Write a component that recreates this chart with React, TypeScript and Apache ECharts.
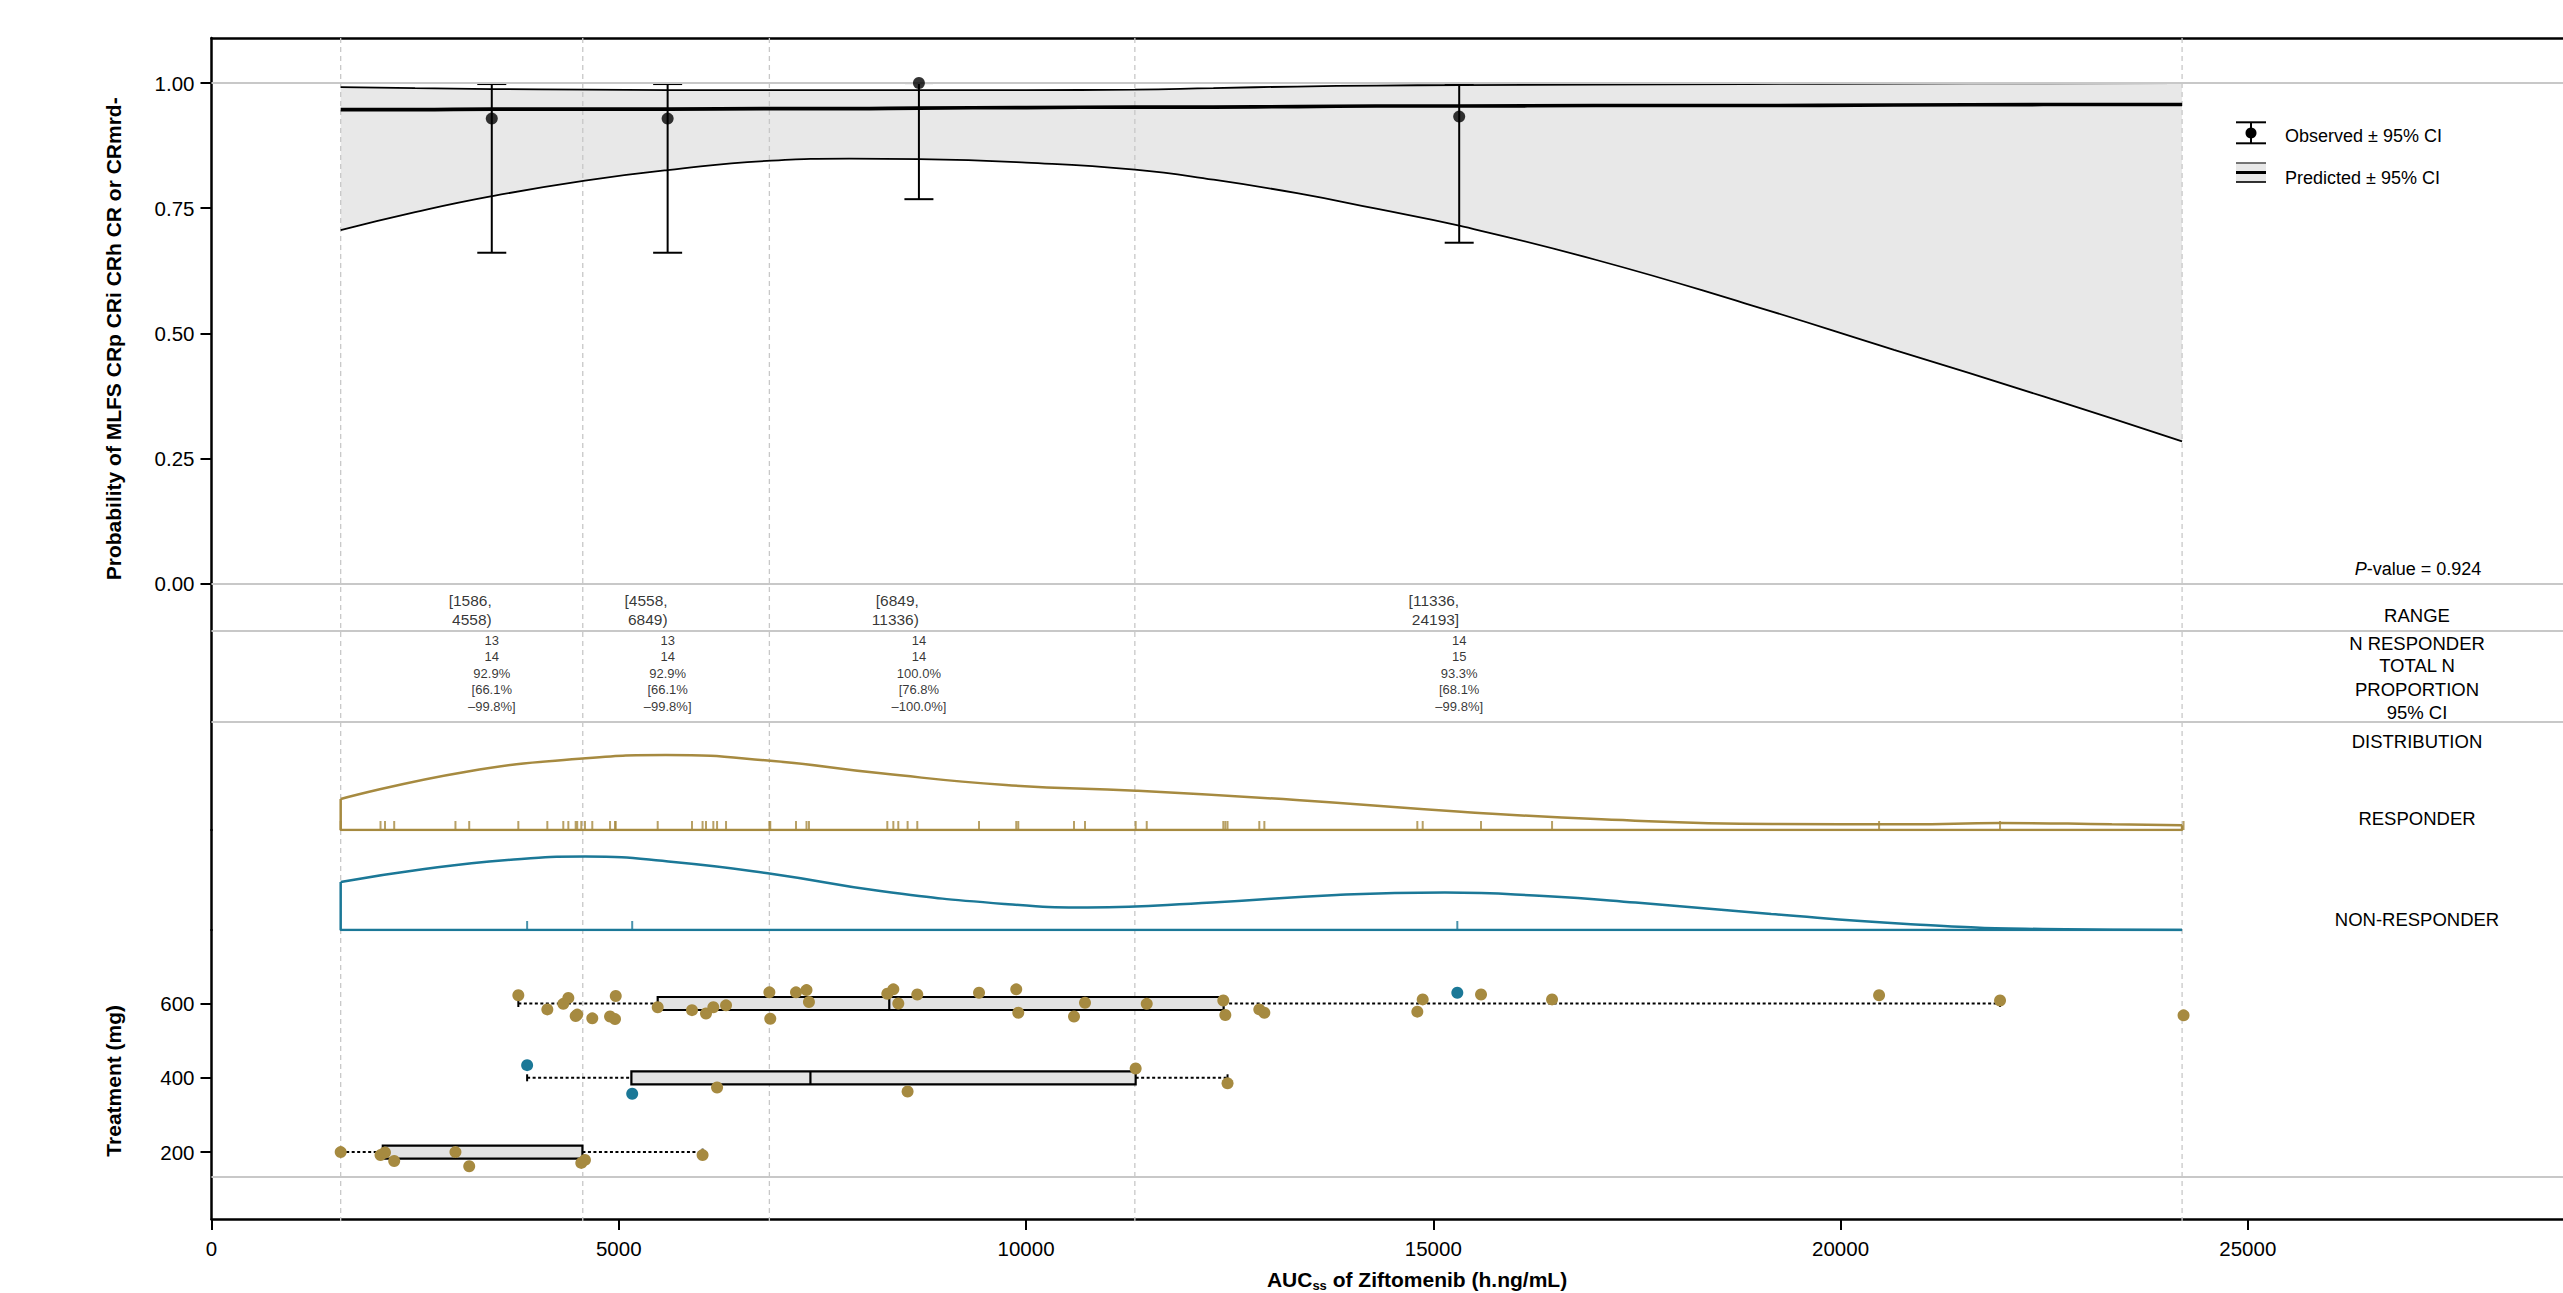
import React, { useEffect, useRef } from "react";
import * as echarts from "echarts";

const FONT = '"Liberation Sans", Arial, Helvetica, sans-serif';
const GOLD = "#A68A40";
const BLUE = "#1B7897";
const GRIDC = "#c8c8c8";

// ---------- data ----------
const binEdges = [1586, 4558, 6849, 11336, 24193];

const predX = [1586, 2500, 3444, 4585, 5600, 6877, 7831, 8685, 10000, 11336, 12300, 13327, 14300, 15318, 16992, 18825, 20656, 22490, 24193];
const predLower = [0.706, 0.742, 0.774, 0.805, 0.826, 0.845, 0.849, 0.848, 0.841, 0.827, 0.807, 0.78, 0.749, 0.715, 0.647, 0.56, 0.467, 0.374, 0.284];
const predUpper = [0.992, 0.99, 0.988, 0.987, 0.986, 0.986, 0.986, 0.986, 0.986, 0.987, 0.99, 0.993, 0.995, 0.996, 0.997, 0.998, 0.999, 0.9995, 1.0];
const predFit = [0.947, 0.947, 0.948, 0.948, 0.948, 0.949, 0.949, 0.95, 0.951, 0.952, 0.952, 0.953, 0.954, 0.954, 0.955, 0.955, 0.956, 0.957, 0.957];

const obsX = [3441, 5600, 8685, 15318];
const obsP = [0.929, 0.929, 1.0, 0.933];
const obsLo = [0.661, 0.661, 0.768, 0.681];
const obsHi = [0.998, 0.998, 1.0, 0.998];

const rangeLabels = ["[1586,\n4558)", "[4558,\n6849)", "[6849,\n11336)", "[11336,\n24193]"];
const nResponder = [13, 13, 14, 14];
const totalN = [14, 14, 14, 15];
const proportion = ["92.9%", "92.9%", "100.0%", "93.3%"];
const ciLow = ["66.1%", "66.1%", "76.8%", "68.1%"];
const ciHigh = ["99.8%", "99.8%", "100.0%", "99.8%"];
const pValue = "0.924";

const respDensX = [1586, 3130, 4595, 5577, 6897, 8220, 9752, 11352, 13317, 15340, 17063, 19165, 20833, 21960, 23330, 24193];
const respDensY = [0.413, 0.777, 0.956, 1.0, 0.92, 0.756, 0.6, 0.524, 0.4, 0.244, 0.143, 0.08, 0.076, 0.093, 0.076, 0.063];
const nrDensX = [1586, 2614, 3632, 4588, 5673, 6889, 8212, 9740, 10757, 12284, 13812, 15142, 16357, 17484, 19149, 20814, 22479, 24193];
const nrDensY = [0.64, 0.813, 0.933, 0.98, 0.907, 0.747, 0.52, 0.347, 0.3, 0.367, 0.467, 0.5, 0.453, 0.367, 0.213, 0.08, 0.013, 0];

// dose groups (AUC, jittered dose position)
const d200RespX = [1586, 2075, 2130, 2243, 2995, 3164, 4540, 4585, 6029];
const d200RespY = [200, 192, 199, 176, 200, 162, 171, 179, 192];
const d400RespX = [6207, 8546, 11346, 12474];
const d400RespY = [374, 363, 425, 385];
const d400NrX = [3875, 5165];
const d400NrY = [434, 357];
const d600RespX = [3767, 4123, 4319, 4381, 4471, 4490, 4675, 4893, 4954, 4963, 5478, 5899, 6071, 6161, 6317, 6849, 6860, 7176, 7305, 7335, 8297, 8371, 8432, 8665, 9423, 9880, 9905, 10589, 10724, 11482, 12422, 12447, 12864, 12926, 14804, 14870, 15586, 16458, 20473, 21958, 24211];
const d600RespY = [622, 584, 599, 615, 566, 570, 560, 565, 558, 620, 590, 582, 573, 590, 595, 630, 559, 630, 636, 604, 626, 638, 600, 624, 629, 638, 575, 565, 602, 599, 608, 569, 584, 575, 578, 611, 624, 611, 622, 608, 568];
const d600NrX = [15295];
const d600NrY = [629];

// box stats per dose
const boxDoses = [200, 400, 600];
const boxMin = [1586, 3875, 3767];
const boxQ1 = [2103, 5155, 5478];
const boxMed = [2995, 7353, 8321];
const boxQ3 = [4554, 11346, 12426];
const boxMax = [6029, 12474, 21958];

const probTicks = [0, 0.25, 0.5, 0.75, 1];
const doseTicks = [200, 400, 600];

// ---------- layout ----------
const GL = 211.5;
const GW = 2411;
const XMAX = 29600;
const lineC = { color: "#000", width: 2.5 };

export default function App() {
  const ref = useRef<HTMLDivElement>(null);
  useEffect(() => {
    if (!ref.current) return;
    const chart = echarts.init(ref.current, undefined, { renderer: "svg" });

    const xBase = { type: "value", min: 0, max: XMAX, interval: 5000 };
    const hidAxis = { show: false };
    const lineOnlyY = (gi: number, min: number, max: number, inverse = false) => ({
      type: "value",
      gridIndex: gi,
      min,
      max,
      inverse,
      axisLine: { show: true, onZero: false, lineStyle: lineC },
      axisTick: { show: false },
      axisLabel: { show: false },
      splitLine: { show: false },
    });

    const smooth = 0.5;
    const zip = (xs: number[], ys: number[]) => xs.map((x, i) => [x, ys[i]]);

    const gridMark = (vals: number[]) => ({
      silent: true,
      symbol: ["none", "none"],
      label: { show: false },
      lineStyle: { color: GRIDC, width: 2, type: "solid" },
      emphasis: { disabled: true },
      data: vals.map((v) => ({ yAxis: v })),
    });

    const respAll = [...d200RespX, ...d400RespX, ...d600RespX];
    const nrAll = [...d400NrX, ...d600NrX];

    const option: any = {
      animation: false,
      textStyle: { fontFamily: FONT, color: "#000" },
      grid: [
        { left: GL, width: GW, top: 38, height: 545.6 },
        { left: GL, width: GW, top: 583.6, height: 138.4 },
        { left: GL, width: GW, top: 722, height: 108 },
        { left: GL, width: GW, top: 830, height: 100 },
        { left: GL, width: GW, top: 929.9, height: 291.4 },
        { left: GL, width: GW, top: 38, height: 1183.3 },
      ],
      xAxis: [
        {
          ...xBase,
          gridIndex: 0,
          position: "top",
          axisLine: { show: true, onZero: false, lineStyle: lineC },
          axisTick: { show: false },
          axisLabel: { show: false },
          splitLine: { show: false },
        },
        { ...xBase, gridIndex: 1, ...hidAxis },
        { ...xBase, gridIndex: 2, ...hidAxis },
        { ...xBase, gridIndex: 3, ...hidAxis },
        {
          ...xBase,
          gridIndex: 4,
          position: "bottom",
          axisLine: { show: true, onZero: false, lineStyle: lineC },
          axisTick: { show: true, length: 11, lineStyle: { color: "#000", width: 2 } },
          axisLabel: { fontSize: 20.5, color: "#000", margin: 19, formatter: (v: number) => String(v), showMaxLabel: false, fontFamily: FONT },
          splitLine: { show: false },
          name: "{b|AUC}{s|ss}{b| of Ziftomenib (h.ng/mL)}",
          nameLocation: "middle",
          nameGap: 48,
          nameTextStyle: {
            color: "#000",
            rich: {
              b: { fontSize: 21, fontWeight: "bold", fontFamily: FONT, color: "#000" },
              s: { fontSize: 13, fontWeight: "bold", fontFamily: FONT, color: "#000", padding: [12, 0, 0, 0] },
            },
          },
        },
        { ...xBase, gridIndex: 5, ...hidAxis },
      ],
      yAxis: [
        {
          type: "value",
          gridIndex: 0,
          min: 0,
          max: 1.09,
          interval: 0.25,
          axisLine: { show: true, onZero: false, lineStyle: lineC },
          axisTick: { show: true, length: 11, lineStyle: { color: "#000", width: 2 }, customValues: probTicks },
          axisLabel: {
            fontSize: 20.5,
            color: "#000",
            margin: 17,
            fontFamily: FONT,
            customValues: probTicks,
            formatter: (v: number) => v.toFixed(2),
          },
          splitLine: { show: false },
        },
        lineOnlyY(1, 0, 138.4, true),
        lineOnlyY(2, 0, 1.44),
        lineOnlyY(3, 0, 1.3333),
        {
          type: "value",
          gridIndex: 4,
          min: 20,
          max: 798,
          axisLine: { show: true, onZero: false, lineStyle: lineC },
          axisTick: { show: true, length: 11, lineStyle: { color: "#000", width: 2 }, customValues: doseTicks },
          axisLabel: { fontSize: 20.5, color: "#000", margin: 17, fontFamily: FONT, customValues: doseTicks },
          splitLine: { show: false },
        },
        { type: "value", gridIndex: 5, min: 0, max: 1, show: false },
      ],
      series: [
        // CI band: gray area under upper curve, then white area under lower curve
        {
          type: "line",
          xAxisIndex: 0,
          yAxisIndex: 0,
          data: zip(predX, predUpper),
          symbol: "none",
          smooth,
          lineStyle: { width: 0, opacity: 0 },
          areaStyle: { color: "#e8e8e8", opacity: 1, origin: "start" },
          silent: true,
          z: 1,
        },
        {
          type: "line",
          xAxisIndex: 0,
          yAxisIndex: 0,
          data: zip(predX, predLower),
          symbol: "none",
          smooth,
          lineStyle: { width: 0, opacity: 0 },
          areaStyle: { color: "#ffffff", opacity: 1, origin: "start" },
          silent: true,
          z: 1,
        },
        // vertical dashed bin lines
        {
          type: "custom",
          xAxisIndex: 5,
          yAxisIndex: 5,
          z: 2,
          silent: true,
          clip: false,
          data: binEdges.map((v) => [v, 0]),
          encode: { x: 0, y: 1 },
          renderItem: (_p: any, api: any) => {
            const t = api.coord([api.value(0), 1]);
            const b = api.coord([api.value(0), 0]);
            return {
              type: "line",
              shape: { x1: t[0], y1: t[1], x2: b[0], y2: b[1] },
              style: { stroke: GRIDC, lineWidth: 1.3, lineDash: [5, 4] },
            };
          },
        },
        {
          type: "line",
          xAxisIndex: 0,
          yAxisIndex: 0,
          data: zip(predX, predLower),
          symbol: "none",
          smooth,
          lineStyle: { color: "#000", width: 1.8 },
          silent: true,
          z: 3,
        },
        {
          type: "line",
          xAxisIndex: 0,
          yAxisIndex: 0,
          data: zip(predX, predUpper),
          symbol: "none",
          smooth,
          lineStyle: { color: "#000", width: 1.8 },
          silent: true,
          z: 3,
        },
        {
          type: "line",
          xAxisIndex: 0,
          yAxisIndex: 0,
          data: zip(predX, predFit),
          symbol: "none",
          smooth,
          lineStyle: { color: "#000", width: 3.6 },
          silent: true,
          z: 3,
          markLine: gridMark([0, 1]),
        },
        // observed error bars
        {
          type: "custom",
          xAxisIndex: 0,
          yAxisIndex: 0,
          z: 4,
          silent: true,
          data: obsX.map((x, i) => [x, obsLo[i], obsHi[i]]),
          encode: { x: 0, y: [1, 2] },
          renderItem: (_p: any, api: any) => {
            const lo = api.coord([api.value(0), api.value(1)]);
            const hi = api.coord([api.value(0), api.value(2)]);
            const w = 14.5;
            const st = { stroke: "#000", lineWidth: 2 };
            return {
              type: "group",
              children: [
                { type: "line", shape: { x1: lo[0], y1: lo[1], x2: hi[0], y2: hi[1] }, style: st },
                { type: "line", shape: { x1: lo[0] - w, y1: lo[1], x2: lo[0] + w, y2: lo[1] }, style: st },
                { type: "line", shape: { x1: hi[0] - w, y1: hi[1], x2: hi[0] + w, y2: hi[1] }, style: st },
              ],
            };
          },
        },
        {
          type: "scatter",
          xAxisIndex: 0,
          yAxisIndex: 0,
          z: 5,
          silent: true,
          symbolSize: 12,
          itemStyle: { color: "#000" },
          data: zip(obsX, obsP),
        },
        // table row 1: ranges
        {
          type: "scatter",
          xAxisIndex: 1,
          yAxisIndex: 1,
          symbolSize: 0,
          silent: true,
          data: obsX.map((x) => [x, 26]),
          label: {
            show: true,
            position: "inside",
            align: "right",
            verticalAlign: "middle",
            fontSize: 15.5,
            lineHeight: 19,
            color: "#000",
            fontFamily: FONT,
            formatter: (p: any) => rangeLabels[p.dataIndex],
          },
          markLine: gridMark([47.4, 138.4]),
        },
        // table row 2: stats
        {
          type: "scatter",
          xAxisIndex: 1,
          yAxisIndex: 1,
          symbolSize: 0,
          silent: true,
          data: obsX.map((x) => [x, 89.4]),
          label: {
            show: true,
            position: "inside",
            align: "center",
            verticalAlign: "middle",
            fontSize: 13,
            lineHeight: 16.5,
            color: "#000",
            fontFamily: FONT,
            formatter: (p: any) => {
              const i = p.dataIndex;
              return `${nResponder[i]}\n${totalN[i]}\n${proportion[i]}\n[${ciLow[i]}\n\u2013${ciHigh[i]}]`;
            },
          },
        },
        // responder density
        {
          type: "line",
          xAxisIndex: 2,
          yAxisIndex: 2,
          data: zip(respDensX, respDensY),
          symbol: "none",
          smooth: 0.5,
          lineStyle: { color: GOLD, width: 2.5 },
          silent: true,
          z: 3,
        },
        {
          type: "line",
          xAxisIndex: 2,
          yAxisIndex: 2,
          data: [
            [respDensX[0], respDensY[0]],
            [respDensX[0], 0],
            [respDensX[respDensX.length - 1], 0],
            [respDensX[respDensX.length - 1], respDensY[respDensY.length - 1]],
          ],
          symbol: "none",
          lineStyle: { color: GOLD, width: 2.5 },
          silent: true,
          z: 3,
        },
        {
          type: "scatter",
          xAxisIndex: 2,
          yAxisIndex: 2,
          symbol: "rect",
          symbolSize: [2, 9],
          symbolOffset: [0, -4.5],
          itemStyle: { color: GOLD },
          silent: true,
          z: 3,
          data: respAll.map((x) => [x, 0]),
        },
        // non-responder density
        {
          type: "line",
          xAxisIndex: 3,
          yAxisIndex: 3,
          data: zip(nrDensX, nrDensY),
          symbol: "none",
          smooth: 0.5,
          lineStyle: { color: BLUE, width: 2.5 },
          silent: true,
          z: 3,
        },
        {
          type: "line",
          xAxisIndex: 3,
          yAxisIndex: 3,
          data: [
            [nrDensX[0], nrDensY[0]],
            [nrDensX[0], 0],
            [nrDensX[nrDensX.length - 1], 0],
            [nrDensX[nrDensX.length - 1], nrDensY[nrDensY.length - 1]],
          ],
          symbol: "none",
          lineStyle: { color: BLUE, width: 2.5 },
          silent: true,
          z: 3,
        },
        {
          type: "scatter",
          xAxisIndex: 3,
          yAxisIndex: 3,
          symbol: "rect",
          symbolSize: [2, 9],
          symbolOffset: [0, -4.5],
          itemStyle: { color: BLUE },
          silent: true,
          z: 3,
          data: nrAll.map((x) => [x, 0]),
        },
        // box plots
        {
          type: "custom",
          xAxisIndex: 4,
          yAxisIndex: 4,
          z: 4,
          silent: true,
          data: boxDoses.map((d, i) => [d, boxMin[i], boxQ1[i], boxMed[i], boxQ3[i], boxMax[i]]),
          encode: { x: [1, 2, 3, 4, 5], y: 0 },
          renderItem: (_p: any, api: any) => {
            const y = api.value(0);
            const mn = api.coord([api.value(1), y]);
            const q1 = api.coord([api.value(2), y]);
            const md = api.coord([api.value(3), y]);
            const q3 = api.coord([api.value(4), y]);
            const mx = api.coord([api.value(5), y]);
            const cy = q1[1];
            const h = 6.5;
            const dash = { stroke: "#000", lineWidth: 2, lineDash: [3, 2.5] };
            const solid = { stroke: "#000", lineWidth: 2 };
            return {
              type: "group",
              children: [
                { type: "line", shape: { x1: mn[0], y1: cy, x2: q1[0], y2: cy }, style: dash },
                { type: "line", shape: { x1: q3[0], y1: cy, x2: mx[0], y2: cy }, style: dash },
                { type: "line", shape: { x1: mn[0], y1: cy - 3.5, x2: mn[0], y2: cy + 3.5 }, style: solid },
                { type: "line", shape: { x1: mx[0], y1: cy - 3.5, x2: mx[0], y2: cy + 3.5 }, style: solid },
                {
                  type: "rect",
                  shape: { x: q1[0], y: cy - h, width: q3[0] - q1[0], height: 2 * h },
                  style: { fill: "#e3e3e3", stroke: "#000", lineWidth: 2.2 },
                },
                { type: "line", shape: { x1: md[0], y1: cy - h, x2: md[0], y2: cy + h }, style: { stroke: "#000", lineWidth: 2.2 } },
              ],
            };
          },
        },
        {
          type: "scatter",
          xAxisIndex: 4,
          yAxisIndex: 4,
          symbolSize: 12,
          itemStyle: { color: GOLD, opacity: 1 },
          silent: true,
          z: 6,
          data: [...zip(d200RespX, d200RespY), ...zip(d400RespX, d400RespY), ...zip(d600RespX, d600RespY)],
          markLine: gridMark([134.6]),
        },
        {
          type: "scatter",
          xAxisIndex: 4,
          yAxisIndex: 4,
          symbolSize: 12,
          itemStyle: { color: BLUE, opacity: 1 },
          silent: true,
          z: 6,
          data: [...zip(d400NrX, d400NrY), ...zip(d600NrX, d600NrY)],
        },
      ],
      graphic: [
        {
          type: "text",
          x: 113,
          y: 338.8,
          rotation: Math.PI / 2,
          style: {
            text: "Probability of MLFS CRp CRi CRh CR or CRmrd-",
            font: `bold 21px ${FONT}`,
            fill: "#000",
            align: "center",
            verticalAlign: "middle",
            textAlign: "center",
            textVerticalAlign: "middle",
          },
        },
        {
          type: "text",
          x: 113,
          y: 1080.8,
          rotation: Math.PI / 2,
          style: {
            text: "Treatment (mg)",
            font: `bold 21px ${FONT}`,
            fill: "#000",
            align: "center",
            verticalAlign: "middle",
            textAlign: "center",
            textVerticalAlign: "middle",
          },
        },
        {
          type: "text",
          x: 2418,
          y: 569,
          style: {
            text: `{i|P}-value = ${pValue}`,
            font: `18px ${FONT}`,
            fill: "#000",
            align: "center",
            verticalAlign: "middle",
            textAlign: "center",
            textVerticalAlign: "middle",
            rich: { i: { fontStyle: "italic", fontSize: 18, fontFamily: FONT, fill: "#000" } },
          },
        },
        ...[
          ["RANGE", 615],
          ["N RESPONDER", 643],
          ["TOTAL N", 665],
          ["PROPORTION", 689],
          ["95% CI", 712],
          ["DISTRIBUTION", 741.5],
          ["RESPONDER", 818.3],
          ["NON-RESPONDER", 919],
        ].map(([t, y]) => ({
          type: "text",
          x: 2417,
          y: y as number,
          style: {
            text: t as string,
            font: `18.5px ${FONT}`,
            fill: "#000",
            align: "center",
            verticalAlign: "middle",
            textAlign: "center",
            textVerticalAlign: "middle",
          },
        })),
        // legend
        {
          type: "group",
          children: [
            { type: "line", shape: { x1: 2251, y1: 122.3, x2: 2251, y2: 143.3 }, style: { stroke: "#000", lineWidth: 2 } },
            { type: "line", shape: { x1: 2236, y1: 122.3, x2: 2266, y2: 122.3 }, style: { stroke: "#000", lineWidth: 2 } },
            { type: "line", shape: { x1: 2236, y1: 143.3, x2: 2266, y2: 143.3 }, style: { stroke: "#000", lineWidth: 2 } },
            { type: "circle", shape: { cx: 2251, cy: 133, r: 5.5 }, style: { fill: "#000" } },
            { type: "rect", shape: { x: 2236, y: 163, width: 30, height: 19 }, style: { fill: "#e8e8e8" } },
            { type: "line", shape: { x1: 2236, y1: 163, x2: 2266, y2: 163 }, style: { stroke: "#555", lineWidth: 1.6 } },
            { type: "line", shape: { x1: 2236, y1: 172.5, x2: 2266, y2: 172.5 }, style: { stroke: "#000", lineWidth: 3 } },
            { type: "line", shape: { x1: 2236, y1: 182, x2: 2266, y2: 182 }, style: { stroke: "#000", lineWidth: 1.6 } },
            {
              type: "text",
              x: 2285,
              y: 136,
              style: {
                text: "Observed \u00b1 95% CI",
                font: `18px ${FONT}`,
                fill: "#000",
                align: "left",
                verticalAlign: "middle",
                textAlign: "left",
                textVerticalAlign: "middle",
              },
            },
            {
              type: "text",
              x: 2285,
              y: 178,
              style: {
                text: "Predicted \u00b1 95% CI",
                font: `18px ${FONT}`,
                fill: "#000",
                align: "left",
                verticalAlign: "middle",
                textAlign: "left",
                textVerticalAlign: "middle",
              },
            },
          ],
        },
      ],
    };

    chart.setOption(option);
    return () => {
      chart.dispose();
    };
  }, []);

  return (
    <div
      style={{
        position: "fixed",
        left: 0,
        top: 0,
        width: "100vw",
        height: "100vh",
        overflow: "hidden",
        background: "#fff",
      }}
    >
      <div ref={ref} style={{ width: 2700, height: 1293 }} />
    </div>
  );
}
